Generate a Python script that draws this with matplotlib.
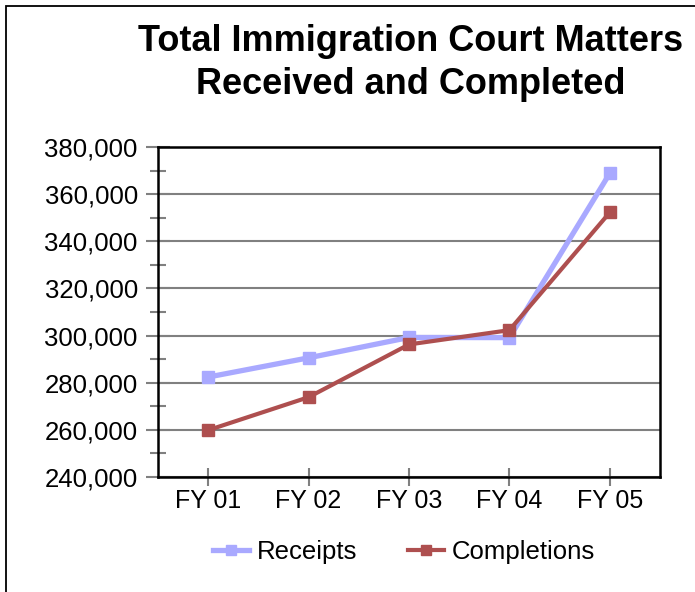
import matplotlib
matplotlib.use("Agg")
import matplotlib.pyplot as plt
from matplotlib.patches import Rectangle
from matplotlib.ticker import FuncFormatter, MultipleLocator

years = ["FY 01", "FY 02", "FY 03", "FY 04", "FY 05"]
receipts = [282404, 290557, 299187, 299131, 368848]
completions = [259869, 273864, 296239, 302294, 352256]

plt.rcParams["font.family"] = ["Liberation Sans", "DejaVu Sans"]

W, H = 695, 592
fig = plt.figure(figsize=(W / 100, H / 100), dpi=100)
fig.patch.set_facecolor("white")

# outer chart border (runs off the right/bottom edges)
fig.patches.append(Rectangle((6 / W, -0.05), 1.1, 1 - 6 / H + 0.05,
                             transform=fig.transFigure, fill=False,
                             edgecolor="black", lw=1.3))

ax = fig.add_axes([158 / W, 1 - 477 / H, 502 / W, 330 / H])
x = list(range(len(years)))

ax.plot(x, receipts, color="#A9A9FF", lw=3.8, marker="s", ms=8,
        label="Receipts", zorder=3)
ax.plot(x, completions, color="#AE4F4F", lw=3.0, marker="s", ms=8,
        label="Completions", zorder=4)

ax.set_xlim(-0.5, 4.5)
ax.set_ylim(240000, 380000)
ax.set_xticks(x)
ax.set_xticklabels(years)
ax.yaxis.set_major_locator(MultipleLocator(20000))
ax.yaxis.set_minor_locator(MultipleLocator(10000))
ax.yaxis.set_major_formatter(FuncFormatter(lambda v, p: f"{int(v):,}"))

ax.grid(axis="y", color="#808080", lw=1.5)
ax.set_axisbelow(True)
for s in ax.spines.values():
    s.set_color("black")
    s.set_linewidth(1.8)

ax.tick_params(axis="y", which="major", direction="inout", length=17,
               width=1.5, color="#808080", labelsize=18.5, pad=6)
ax.tick_params(axis="y", which="minor", direction="inout", length=11,
               width=1.5, color="#808080")
ax.tick_params(axis="x", direction="inout", length=13, width=1.5,
               color="#808080", labelsize=18, pad=2)

fig.text(411 / W, 1 - 63 / H,
         "Total Immigration Court Matters\nReceived and Completed",
         ha="center", va="center", fontsize=26, fontweight="bold",
         linespacing=1.32)

fig.legend(loc="center", bbox_to_anchor=(404 / W, 1 - 552 / H), ncol=2,
           frameon=False, fontsize=18.5, handlelength=1.4, handletextpad=0.3,
           columnspacing=2.0, markerscale=0.9)

fig.savefig("out.png", dpi=100)
